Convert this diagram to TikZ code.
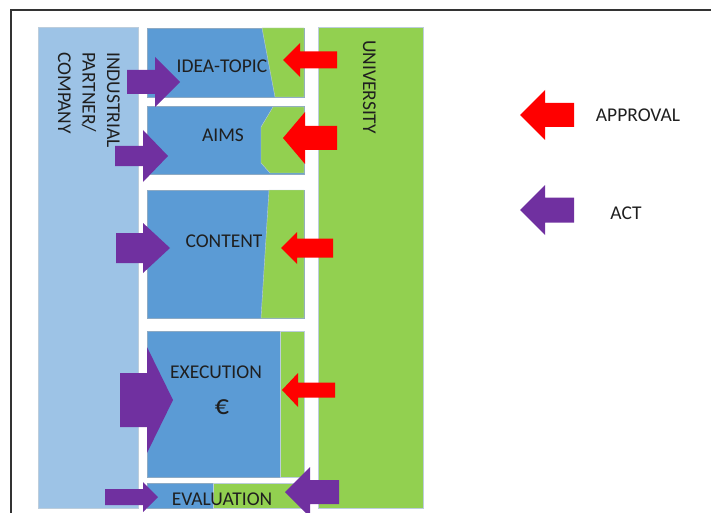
\documentclass[tikz,border=0pt]{standalone}
\usepackage{fontspec}
\setmainfont{Carlito}
\usepackage{tikz}
\definecolor{tpblue}{HTML}{5B9BD5}
\definecolor{tplight}{HTML}{9DC3E6}
\definecolor{tpgreen}{HTML}{92D050}
\definecolor{tpred}{HTML}{FF0000}
\definecolor{tppurple}{HTML}{7030A0}
\definecolor{tpedge}{HTML}{41719C}
\definecolor{tpink}{HTML}{1F1F1F}
\tikzset{
  partnerCol/.style={fill=tplight, draw=tpedge!35, line width=0.5pt},
  phaseBox/.style={fill=tpblue, draw=tpedge!60, line width=0.5pt},
  uniPart/.style={fill=tpgreen, draw=tpedge!35, line width=0.4pt},
  actArrow/.style={fill=tppurple},
  approvalArrow/.style={fill=tpred},
  frameLine/.style={draw=black!80, line width=1.8pt},
  phaseLabel/.style={font=\fontsize{19.5}{24.5}\selectfont, text=tpink, anchor=base, inner sep=0pt},
  sideLabel/.style={phaseLabel, rotate=-90, align=left}
}

\begin{document}
\begin{tikzpicture}[x=1pt,y=-1pt]
  \useasboundingbox (0,0) rectangle (711,513);
  \clip (0,0) rectangle (711,513);
  \draw[frameLine] (11,513) -- (11,10) -- (711,10);
  % the two parties
  \filldraw[partnerCol] (38,27) rectangle (138,508);
  \filldraw[uniPart] (318,27) rectangle (423,508);
  % phases
  \filldraw[phaseBox] (147,28) rectangle (304,97);
  \filldraw[uniPart] (262,28) -- (304,28) -- (304,97) -- (275,97) -- cycle;
  \filldraw[phaseBox] (147,106) rectangle (304,174);
  \filldraw[uniPart] (273,107) -- (304,107) -- (304,173) -- (270,173) -- (261,163) -- (261,127) -- cycle;
  \filldraw[phaseBox] (147,190) rectangle (304,318);
  \filldraw[uniPart] (269,190) -- (304,190) -- (304,318) -- (261,318) -- cycle;
  \filldraw[phaseBox] (147,331) rectangle (304,477);
  \filldraw[uniPart] (280,331) rectangle (304,477);
  \filldraw[phaseBox] (147,483) rectangle (213,508);
  \filldraw[uniPart] (213,483) rectangle (304,508);
  % act arrows: tip/base/tail/centre/head/shaft
  \foreach \tip/\base/\tail/\cy/\hh/\sh in {180/155/127/82/25/12, 168/143/115/156/26/10,
      170/143/116/248/25/15, 173/147/120/400/53/27, 158/143/105/497/15/8,
      285/310/339/492/25/12, 520/545/574/210/25/12.5}
    \fill[actArrow] (\tip,\cy) -- (\base,\cy-\hh) -- (\base,\cy-\sh) -- (\tail,\cy-\sh)
      -- (\tail,\cy+\sh) -- (\base,\cy+\sh) -- (\base,\cy+\hh) -- cycle;
  % approval arrows
  \foreach \tip/\base/\tail/\cy/\hh/\sh in {283/300/337/60/17/8.5, 283/305/337/138/26/12,
      281/297/333/248/16/9.5, 282/298/335/390/17/7.5, 520/545/574/115/25/12}
    \fill[approvalArrow] (\tip,\cy) -- (\base,\cy-\hh) -- (\base,\cy-\sh) -- (\tail,\cy-\sh)
      -- (\tail,\cy+\sh) -- (\base,\cy+\sh) -- (\base,\cy+\hh) -- cycle;
  % labels
  \node[sideLabel, anchor=north west] (partner) at (120,52) {INDUSTRIAL\\PARTNER/\\COMPANY};
  \node[sideLabel, anchor=base west] (university) at (363,40) {UNIVERSITY};
  \node[phaseLabel] (idea) at (222,73) {IDEA-TOPIC};
  \node[phaseLabel] (aims) at (223,142) {AIMS};
  \node[phaseLabel] (content) at (224,247) {CONTENT};
  \node[phaseLabel] (execution) at (216,378) {EXECUTION};
  \node[phaseLabel, font=\fontsize{28}{30}\selectfont] (euro) at (222,414) {€};
  \node[phaseLabel] (evaluation) at (222,505) {EVALUATION};
  \node[phaseLabel] (approval) at (638,122) {APPROVAL};
  \node[phaseLabel] (act) at (626,219) {ACT};
\end{tikzpicture}
\end{document}
